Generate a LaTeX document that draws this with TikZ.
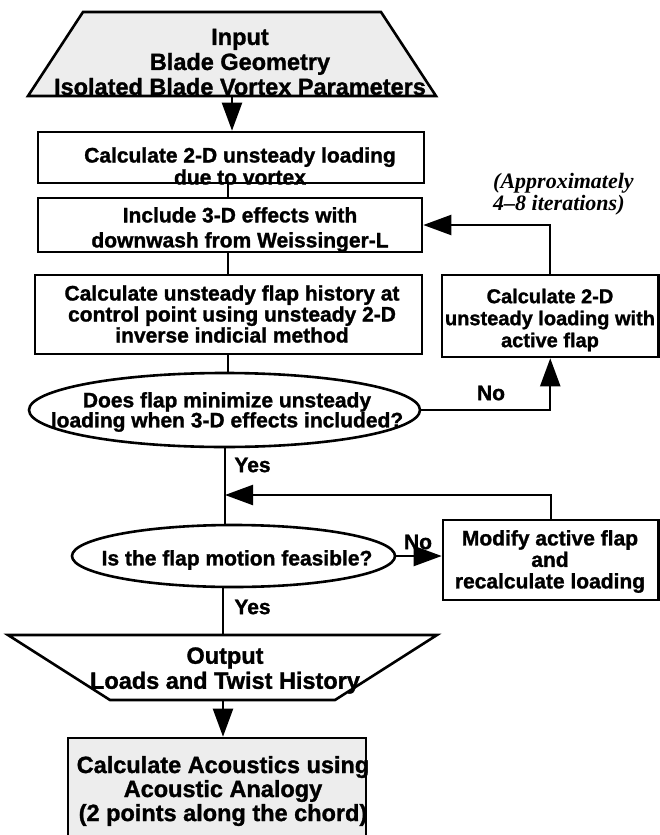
\documentclass[tikz,border=0pt]{standalone}
\usepackage{fontspec}
\setmainfont{Liberation Sans}[BoldFeatures={FakeBold=1.3}]
\newfontfamily\notefont{Liberation Serif}
\usetikzlibrary{shapes.geometric,arrows.meta}
\begin{document}
\begin{tikzpicture}[x=1pt,y=-1pt,
  shp/.style={draw=black, line width=2.6pt, inner sep=0pt},
  boxst/.style={shp, rectangle},
  ell/.style={shp, ellipse},
  stipple/.style={fill=black!7},
  txt/.style={align=center, inner sep=0pt, font=\fontsize{21}{21}\selectfont\bfseries},
  bigtxt/.style={align=center, inner sep=0pt, font=\fontsize{23.5}{25}\selectfont\bfseries},
  lbl/.style={inner sep=0pt, font=\fontsize{21}{21}\selectfont\bfseries},
  notest/.style={inner sep=0pt, align=left, font=\fontsize{22}{22}\selectfont\notefont\bfseries\itshape},
  con/.style={line width=2.2pt},
  arr/.style={con, -{Triangle[length=28pt,width=20pt]}}
]
\useasboundingbox (0,0) rectangle (660,835);
\fill[white] (0,0) rectangle (660,835);

% column coordinates
\coordinate (colA) at (232,0);
\coordinate (colB) at (228,0);
\coordinate (colC) at (225,0);
\coordinate (colD) at (223,0);

% input trapezoid
\coordinate (i1) at (83,12);
\coordinate (i2) at (381,12);
\coordinate (i3) at (436,96);
\coordinate (i4) at (28,96);
\draw[shp, stipple] (i1) -- (i2) -- (i3) -- (i4) -- cycle;
\node[bigtxt] (intext) at (240,62) {Input\\Blade Geometry\\Isolated Blade Vortex Parameters};
\coordinate (inbot) at (232,96);

% main column boxes
\node[boxst, minimum width=386, minimum height=51] (b1) at (231,157.5) {};
\node[txt, font=\fontsize{21}{22}\selectfont\bfseries] (b1t) at (240,166) {Calculate 2-D unsteady loading\\due to vortex};

\node[boxst, minimum width=384, minimum height=54] (b2) at (230,225) {};
\node[txt, font=\fontsize{21}{25}\selectfont\bfseries] (b2t) at (240,229.5) {Include 3-D effects with\\downwash from Weissinger-L};

\node[boxst, minimum width=387, minimum height=79] (b3) at (228.5,314.5) {};
\node[txt] (b3t) at (232,314) {Calculate unsteady flap history at\\control point using unsteady 2-D\\inverse indicial method};

\node[ell, minimum width=391, minimum height=74] (e1) at (224.5,410) {};
\node[txt, font=\fontsize{21}{20}\selectfont\bfseries] (e1t) at (227,412) {Does flap minimize unsteady\\loading when 3-D effects included?};

\node[ell, minimum width=323, minimum height=62] (e2) at (233.5,556) {};
\node[txt] (e2t) at (237,560) {Is the flap motion feasible?};

% output trapezoid
\coordinate (o1) at (8,635);
\coordinate (o2) at (437,635);
\coordinate (o3) at (335,700);
\coordinate (o4) at (110,700);
\draw[shp] (o1) -- (o2) -- (o3) -- (o4) -- cycle;
\node[bigtxt] (otext) at (225,670.5) {Output\\Loads and Twist History};

% acoustics box
\node[boxst, stipple, minimum width=298, minimum height=110] (ac) at (217,793) {};
\node[bigtxt, font=\fontsize{23.5}{24}\selectfont\bfseries] (act) at (223,791) {Calculate Acoustics using\\Acoustic Analogy\\(2 points along the chord)};

% right boxes
\node[boxst, minimum width=216.5, minimum height=82] (rb1) at (550.25,316) {};
\node[txt, font=\fontsize{20}{22}\selectfont\bfseries] (rb1t) at (550,320) {Calculate 2-D\\unsteady loading with\\active flap};

\node[boxst, minimum width=215.5, minimum height=80] (rb2) at (550.75,560) {};
\node[txt, font=\fontsize{21}{21.5}\selectfont\bfseries] (rb2t) at (550,561.5) {Modify active flap\\and\\recalculate loading};

% note
\node[notest, anchor=west] (note) at (493,194) {(Approximately\\4–8 iterations)};

% labels
\node[lbl] (no1) at (491,393) {No};
\node[lbl] (yes1) at (252.5,465) {Yes};
\node[lbl] (no2) at (418,542) {No};
\node[lbl] (yes2) at (252.5,607) {Yes};

% connectors
\coordinate (jn) at (225,495);
\draw[arr] (inbot) -- (colA |- b1.north);
\draw[con] (colB |- b1.south) -- (colB |- b2.north);
\draw[con] (colB |- b2.south) -- (colB |- b3.north);
\draw[con] (colB |- b3.south) -- (colB |- e1.north);
\draw[con] (colC |- e1.south) -- (colC |- e2.north);
\draw[con] (colD |- e2.south) -- (colD |- o1);
\draw[arr] (colD |- o4) -- (colD |- ac.north);
\draw[arr] (e1.east) -| (rb1.south);
\draw[arr] (rb1.north) |- (b2.east);
\draw[arr] (rb2.north) |- (jn);
\draw[arr] (e2.east) -- (e2.east -| rb2.west);
\end{tikzpicture}
\end{document}
